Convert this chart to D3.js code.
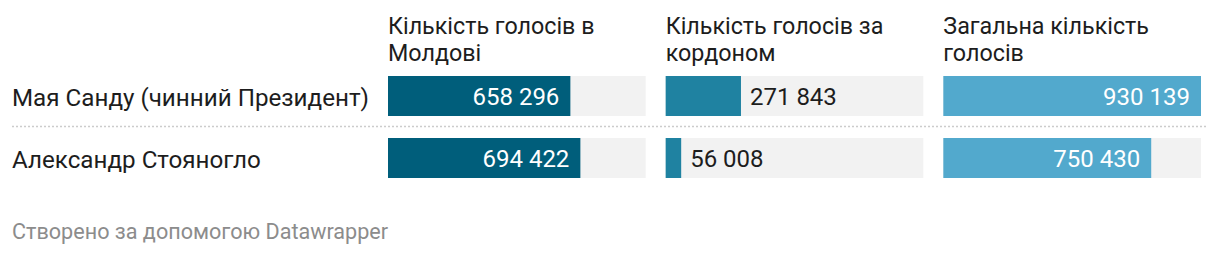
<!DOCTYPE html>
<html>
<head>
<meta charset="utf-8">
<script src="https://cdn.jsdelivr.net/npm/d3@7"></script>
<style>
  html, body { margin: 0; padding: 0; background: #fff; }
  svg { display: block; font-family: Roboto, sans-serif; }
</style>
</head>
<body>
<svg id="chart"></svg>
<script>
const candidates = ['Мая Санду (чинний Президент)', 'Александр Стояногло']
const columns = ['Кількість голосів в Молдові', 'Кількість голосів за кордоном', 'Загальна кількість голосів']
const inMoldova = [658296, 694422]
const abroad = [271843, 56008]
const total = [930139, 750430]
const footer = 'Створено за допомогою Datawrapper'

const colors = ['#005e7b', '#1f82a1', '#52a9cd']
const width = 1220
const height = 254

const series = [inMoldova, abroad, total]

const svg = d3.select('#chart')
  .attr('width', width)
  .attr('height', height)

const fmt = d3.formatLocale({ decimal: ',', thousands: ' ', grouping: [3], currency: ['', ''] }).format(',d')

// columns share one x scale, like in datawrapper table bars
const colX = d3.scaleBand()
  .domain(columns)
  .range([388, 1201])
  .paddingInner(0.072)

const rowY = d3.scaleBand()
  .domain(candidates)
  .range([66, 190])

const maxVal = d3.max(series.flat())
const x = d3.scaleLinear()
  .domain([0, maxVal])
  .range([0, colX.bandwidth()])

// headers, wrapped to the column width
const head = svg.append('g')
  .attr('font-size', 23.3)
  .attr('fill', '#1d1d1d')

columns.forEach(c => {
  const t = head.append('text')
    .attr('x', colX(c))
    .attr('y', 34)
  const words = c.split(' ')
  let line = []
  let tspan = t.append('tspan').attr('x', colX(c)).attr('dy', 0)
  words.forEach(w => {
    line.push(w)
    tspan.text(line.join(' '))
    if (tspan.node().getComputedTextLength() > colX.bandwidth() && line.length > 1) {
      line.pop()
      tspan.text(line.join(' '))
      line = [w]
      tspan = t.append('tspan').attr('x', colX(c)).attr('dy', 27).text(w)
    }
  })
})

// rows
const rows = svg.append('g')
  .selectAll('g')
  .data(candidates)
  .join('g')
  .attr('transform', d => `translate(0,${rowY(d)})`)

rows.append('text')
  .attr('x', 12)
  .attr('y', 40)
  .attr('font-size', 24.2)
  .attr('fill', '#1d1d1d')
  .text(d => d)

rows.filter((d, i) => i < candidates.length - 1)
  .append('line')
  .attr('x1', 12)
  .attr('x2', 1208)
  .attr('y1', rowY.bandwidth() - 1.5)
  .attr('y2', rowY.bandwidth() - 1.5)
  .attr('stroke', '#ccc')
  .attr('stroke-width', 1.5)
  .attr('stroke-dasharray', '2,2')

columns.forEach((c, ci) => {
  const cell = rows.append('g')
    .attr('transform', `translate(${colX(c)},10)`)

  cell.append('rect')
    .attr('width', colX.bandwidth())
    .attr('height', 40)
    .attr('fill', '#f2f2f2')

  cell.append('rect')
    .attr('width', (d, i) => x(series[ci][i]))
    .attr('height', 40)
    .attr('fill', colors[ci])

  cell.append('text')
    .attr('y', 29)
    .attr('font-size', 24)
    .text((d, i) => fmt(series[ci][i]))
    .each(function (d, i) {
      const w = x(series[ci][i])
      const tw = this.getComputedTextLength()
      if (tw + 22 < w) {
        d3.select(this).attr('x', w - 11).attr('text-anchor', 'end').attr('fill', '#fff')
      } else {
        d3.select(this).attr('x', w + 9).attr('text-anchor', 'start').attr('fill', '#1d1d1d')
      }
    })
})

svg.append('text')
  .attr('x', 12)
  .attr('y', 239)
  .attr('font-size', 21.6)
  .attr('fill', '#8c8c8c')
  .text(footer)
</script>
</body>
</html>
